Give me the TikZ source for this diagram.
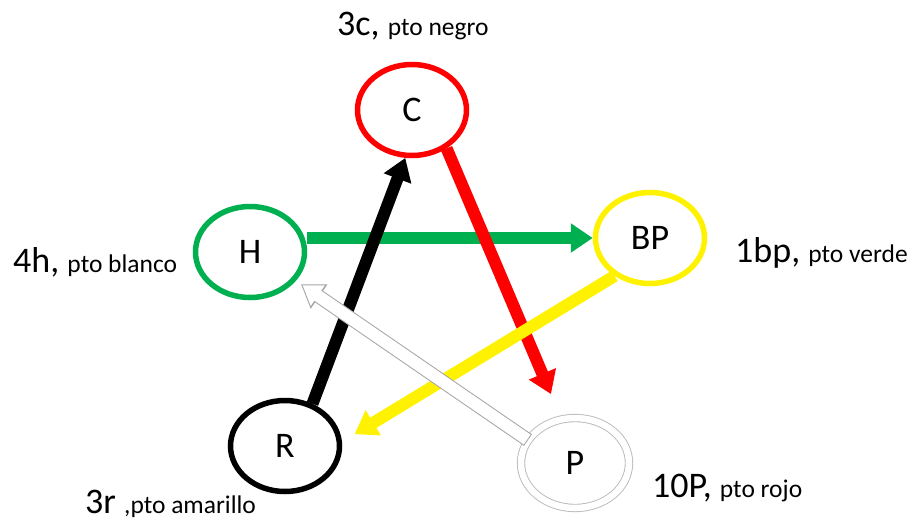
\documentclass[tikz,border=0pt]{standalone}
\usepackage{fontspec}
\setmainfont{Carlito}
\usetikzlibrary{arrows.meta,shapes.geometric}
\definecolor{ogreen}{RGB}{0,176,80}
\definecolor{pgray}{RGB}{185,185,185}
\definecolor{agray}{RGB}{165,165,165}
\newcommand\bigf{\fontsize{36}{42}\selectfont}
\newcommand\smf{\fontsize{25.5}{30}\selectfont}
\begin{document}
\begin{tikzpicture}[x=1pt,y=-1pt,
  circ/.style={ellipse, draw, line width=5.5pt, minimum width=109pt, minimum height=91pt, inner sep=0pt, font=\bigf},
  thickarrow/.style={line width=12pt, -{Triangle[length=22pt,width=28pt]}},
  lab/.style={anchor=base west, inner sep=0pt, font=\bigf}]
\useasboundingbox (0,0) rectangle (915,531);

% nodes
\node[circ, draw=red]    (C)  at (412,110) {C};
\node[circ, draw=ogreen] (H)  at (250,252) {H};
\node[circ, draw=yellow] (BP) at (650,238) {BP};
\node[circ, draw=black]  (R)  at (285,446) {R};
\node[ellipse, draw=pgray, line width=0.9pt, double=white, double distance=6.5pt,
      minimum width=108pt, minimum height=90pt, inner sep=0pt, font=\bigf] (P) at (575,463) {P};

% labels
\node[lab] (lC)  at (337,35)  {3c, {\smf pto negro}};
\node[lab] (lH)  at (13,272)  {4h, {\smf pto blanco}};
\node[lab] (lBP) at (735,262) {1bp, {\smf pto verde}};
\node[lab] (lP)  at (652,497) {10P, {\smf pto rojo}};
\node[lab] (lR)  at (85,513)  {3r {\smf ,pto amarillo}};

% connectors
\draw[thickarrow, draw=ogreen] (H.east |- BP.west) -- (BP.west);
\draw[thickarrow, draw=black] (R.57) -- (C.262);
\draw[thickarrow, draw=red, shorten >=27pt] (C.-48) -- (P.107);
\draw[thickarrow, draw=yellow] (BP.227) -- ([xshift=14pt]R.12);
% outlined white arrow
\draw[line width=14pt, draw=agray, -{Triangle[length=22pt,width=28pt]}, shorten >=6pt] (P.154) -- (H.-32);
\draw[line width=12pt, draw=white, -{Triangle[length=18.5pt,width=23.5pt]}, shorten >=7.9pt, shorten <=1pt] (P.154) -- (H.-32);
\end{tikzpicture}
\end{document}
